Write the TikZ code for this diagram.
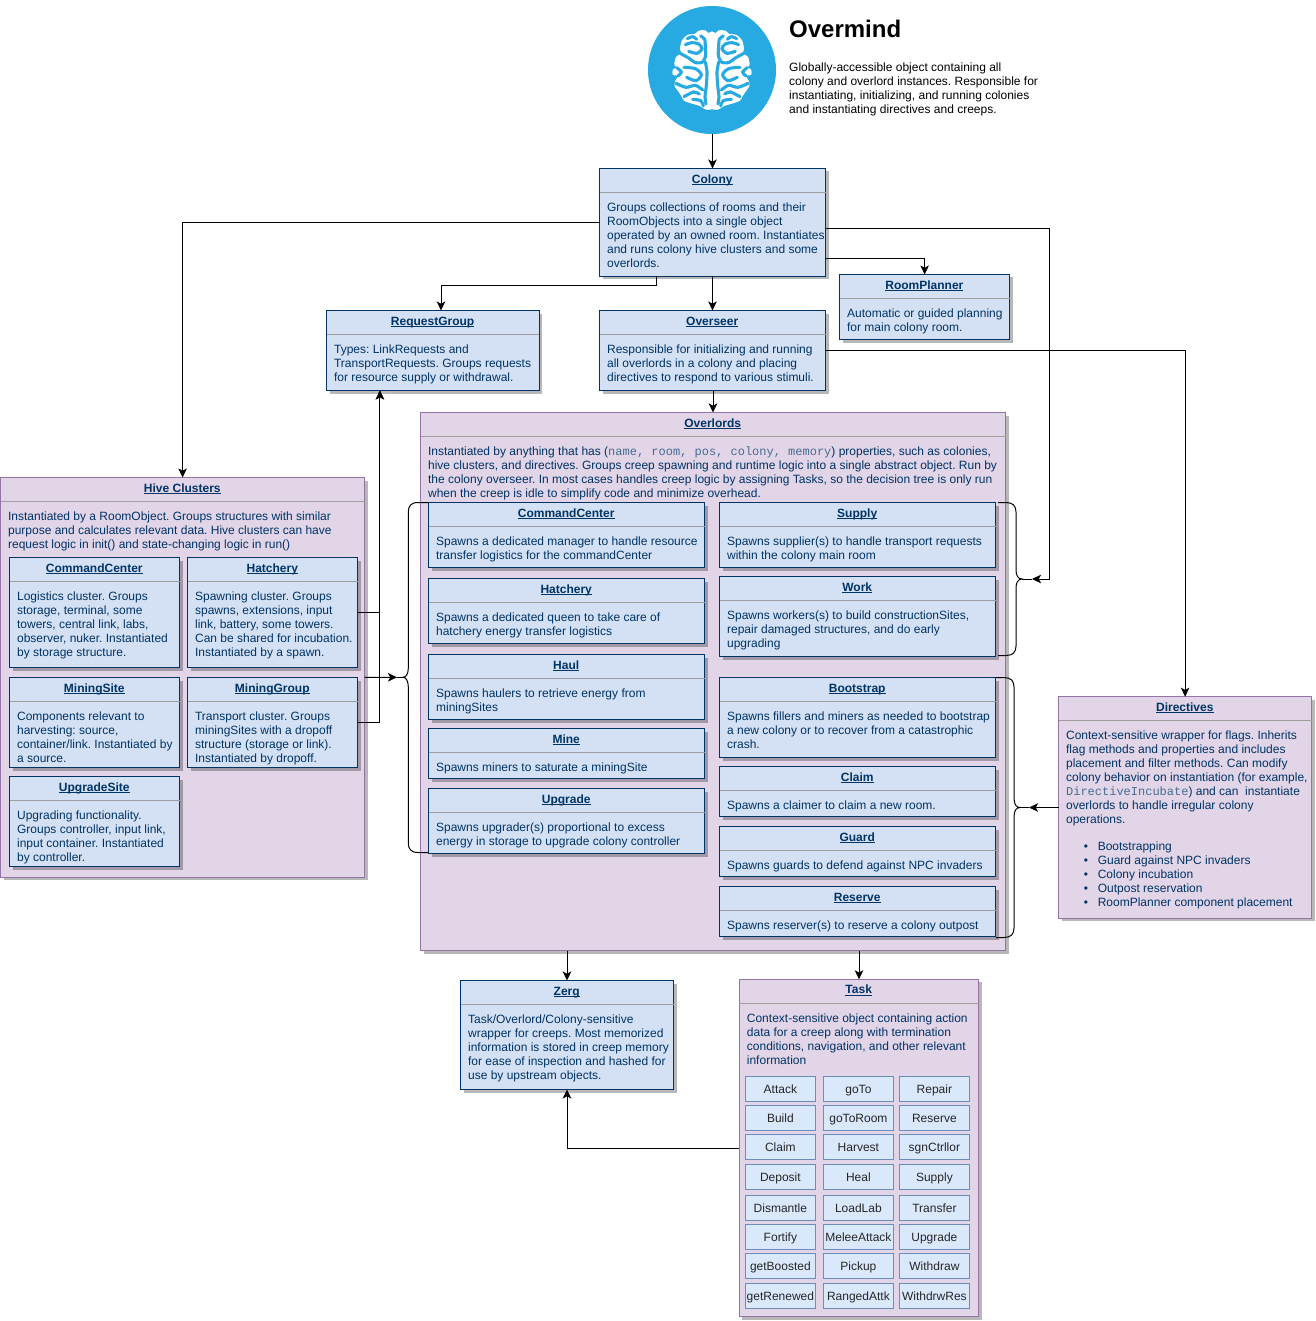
\documentclass[tikz,border=0pt]{standalone}
\usepackage{fontspec}
\setmainfont{Liberation Sans}
\newfontfamily\codefont{Liberation Mono}
\usetikzlibrary{arrows.meta,shadows}
\frenchspacing
\definecolor{txtblue}{HTML}{003366}
\definecolor{bluefill}{HTML}{D4E1F5}
\definecolor{purplefill}{HTML}{E1D5E7}
\definecolor{purpleline}{HTML}{9673A6}
\definecolor{cellfill}{HTML}{DAE8FC}
\definecolor{cellline}{HTML}{6C8EBF}
\definecolor{brainblue}{HTML}{27AAE1}
\newlength{\ttllen}
\newcommand{\ttlu}[1]{\settowidth{\ttllen}{#1}\rlap{\rule[-1.7pt]{\ttllen}{0.8pt}}#1}
\newcommand{\cls}[7][bluebox]{%
  \node[#1,minimum width=#5pt,minimum height=#6pt] (#2) at (#3,#4) {};
  \draw[divider] ([yshift=-24pt]#2.north west) -- ([yshift=-24pt]#2.north east);
  \node[titletext] (#2title) at ([xshift=-.3pt,yshift=-14.6pt]#2.north) {\ttlu{#7}};
}
\newcommand{\bodytxt}[2]{\node[bodytext] (#1body) at ([xshift=7.4pt,yshift=-32.5pt]#1.north west) {\rule{0pt}{10pt}#2};}
\newcommand{\groove}[1]{\draw[brainblue,line width=3.1pt,line cap=round] plot[smooth] coordinates {#1};}
\newcommand{\brainhalf}{%
  \fill[white] plot[smooth] coordinates {(0,28) (-11,33) (-20,25) (-40,26) (-52,36) (-72,38) (-90,55) (-96,80) (-93,93) (-108,105) (-113,128) (-106,137) (-117,142) (-118,158) (-102,162) (-110,176) (-112,192) (-100,210) (-92,222) (-84,236) (-60,245) (-36,252) (-18,263) (0,262)} -- cycle;
  \groove{(-80,68) (-60,62) (-40,66) (-30,80) (-45,94) (-70,88)}
  \groove{(-96,94) (-70,108) (-50,122) (-28,120) (-19,100) (-20,75) (-22,52) (-34,42)}
  \groove{(-20,120) (-15,150) (-17,190) (-21,225) (-18,246)}
  \groove{(-84,136) (-50,140) (-32,158) (-48,176) (-76,166)}
  \groove{(-106,137) (-92,150) (-102,162)}
  \groove{(-108,184) (-78,196) (-50,190) (-28,204)}
  \groove{(-84,224) (-55,210) (-38,216)}
  \groove{(-58,232) (-34,236) (-26,252)}
  \groove{(-74,50) (-58,44) (-46,52)}
}
\tikzset{
  baselook/.style={rectangle,anchor=north west,inner sep=0pt,outer sep=0pt,line width=1pt,
    drop shadow={shadow xshift=3pt,shadow yshift=-3pt,fill=black,opacity=.28}},
  bluebox/.style={baselook,draw=txtblue,fill=bluefill},
  purplebox/.style={baselook,draw=purpleline,fill=purplefill},
  divider/.style={draw=black!38,line width=1pt},
  titletext/.style={anchor=base,inner sep=0pt,text=txtblue,font=\fontsize{12}{14}\selectfont\bfseries},
  bodytext/.style={anchor=north west,inner sep=0pt,align=left,text=txtblue,font=\fontsize{12}{14}\selectfont},
  cell/.style={rectangle,draw=cellline,fill=cellfill,line width=.9pt,inner sep=0pt,outer sep=0pt,
    minimum width=70.7pt,minimum height=25.4pt,text height=10pt,text depth=1pt,font=\fontsize{12}{14}\selectfont,text=black!85},
  arr/.style={-{Stealth[length=9pt,width=8.5pt,inset=2.2pt]},line width=1pt,draw=black},
  plainline/.style={line width=1pt,draw=black},
}
\begin{document}
\begin{tikzpicture}[x=1pt,y=-1pt]
\useasboundingbox (0,0) rectangle (1315,1321);
\fill[white] (0,0) rectangle (1315,1321);
% Overmind
\node[circle,fill=brainblue,minimum size=128pt,inner sep=0pt,outer sep=0pt] (overmind) at (712,70) {};
\begin{scope}[shift={(712,22)},scale=0.3333]
  \brainhalf
  \begin{scope}[xscale=-1]\brainhalf\end{scope}
\end{scope}
\node[anchor=base west,inner sep=0pt,font=\fontsize{24}{28}\selectfont\bfseries] (overmindtitle) at (789,38) {Overmind};
\node[anchor=north west,inner sep=0pt,align=left,font=\fontsize{12}{14}\selectfont] (overminddesc) at (789,61) {\rule{0pt}{10pt}Globally-accessible object containing all\\colony and overlord instances. Responsible for\\instantiating, initializing, and running colonies\\and instantiating directives and creeps.};
% Colony
\cls{colony}{599.5}{168.5}{226}{108}{Colony}
\bodytxt{colony}{Groups collections of rooms and their\\RoomObjects into a single object\\operated by an owned room. Instantiates\\and runs colony hive clusters and some\\overlords.}
\cls{roomplanner}{839.5}{274.5}{170.3}{65}{RoomPlanner}
\bodytxt{roomplanner}{Automatic or guided planning\\for main colony room.}
\cls{overseer}{599.5}{310.5}{226}{80}{Overseer}
\bodytxt{overseer}{Responsible for initializing and running\\all overlords in a colony and placing\\directives to respond to various stimuli.}
\cls{requestgroup}{326.5}{310.5}{212.8}{80}{RequestGroup}
\bodytxt{requestgroup}{Types: LinkRequests and\\TransportRequests. Groups requests\\for resource supply or withdrawal.}
% Overlords
\cls[purplebox]{overlords}{420.5}{412.5}{585}{538}{Overlords}
\bodytxt{overlords}{Instantiated by anything that has ({\codefont\color{txtblue!72}name, room, pos, colony, memory}) properties, such as colonies,\\hive clusters, and directives. Groups creep spawning and runtime logic into a single abstract object. Run by\\the colony overseer. In most cases handles creep logic by assigning Tasks, so the decision tree is only run\\when the creep is idle to simplify code and minimize overhead.}
\cls{ocommand}{428.5}{502.5}{276}{65}{CommandCenter}
\bodytxt{ocommand}{Spawns a dedicated manager to handle resource\\transfer logistics for the commandCenter}
\cls{ohatchery}{428.5}{578.5}{276}{65}{Hatchery}
\bodytxt{ohatchery}{Spawns a dedicated queen to take care of\\hatchery energy transfer logistics}
\cls{ohaul}{428.5}{654.5}{276}{65}{Haul}
\bodytxt{ohaul}{Spawns haulers to retrieve energy from\\miningSites}
\cls{omine}{428.5}{728.5}{276}{50}{Mine}
\bodytxt{omine}{Spawns miners to saturate a miningSite}
\cls{oupgrade}{428.5}{788.5}{276}{65}{Upgrade}
\bodytxt{oupgrade}{Spawns upgrader(s) proportional to excess\\energy in storage to upgrade colony controller}
\cls{osupply}{719.5}{502.5}{276}{65}{Supply}
\bodytxt{osupply}{Spawns supplier(s) to handle transport requests\\within the colony main room}
\cls{owork}{719.5}{576.5}{276}{80}{Work}
\bodytxt{owork}{Spawns workers(s) to build constructionSites,\\repair damaged structures, and do early\\upgrading}
\cls{obootstrap}{719.5}{677.5}{276}{80}{Bootstrap}
\bodytxt{obootstrap}{Spawns fillers and miners as needed to bootstrap\\a new colony or to recover from a catastrophic\\crash.}
\cls{oclaim}{719.5}{766.5}{276}{50}{Claim}
\bodytxt{oclaim}{Spawns a claimer to claim a new room.}
\cls{oguard}{719.5}{826.5}{276}{50}{Guard}
\bodytxt{oguard}{Spawns guards to defend against NPC invaders}
\cls{oreserve}{719.5}{886.5}{276}{50}{Reserve}
\bodytxt{oreserve}{Spawns reserver(s) to reserve a colony outpost}
% Hive clusters
\cls[purplebox]{hive}{0.5}{477.5}{364.2}{399.5}{Hive Clusters}
\bodytxt{hive}{Instantiated by a RoomObject. Groups structures with similar\\purpose and calculates relevant data. Hive clusters can have\\request logic in init() and state-changing logic in run()}
\cls{hcommand}{9.5}{557.5}{170.2}{110}{CommandCenter}
\bodytxt{hcommand}{Logistics cluster. Groups\\storage, terminal, some\\towers, central link, labs,\\observer, nuker. Instantiated\\by storage structure.}
\cls{hhatchery}{187.5}{557.5}{170.2}{110}{Hatchery}
\bodytxt{hhatchery}{Spawning cluster. Groups\\spawns, extensions, input\\link, battery, some towers.\\Can be shared for incubation.\\Instantiated by a spawn.}
\cls{hmining}{9.5}{677.5}{170.2}{90}{MiningSite}
\bodytxt{hmining}{Components relevant to\\harvesting: source,\\container/link. Instantiated by\\a source.}
\cls{hgroup}{187.5}{677.5}{170.2}{90}{MiningGroup}
\bodytxt{hgroup}{Transport cluster. Groups\\miningSites with a dropoff\\structure (storage or link).\\Instantiated by dropoff.}
\cls{hupgrade}{9.5}{776.5}{170.2}{90}{UpgradeSite}
\bodytxt{hupgrade}{Upgrading functionality.\\Groups controller, input link,\\input container. Instantiated\\by controller.}
% Directives
\cls[purplebox]{directives}{1058.5}{696.7}{253.2}{221.6}{Directives}
\bodytxt{directives}{Context-sensitive wrapper for flags. Inherits\\flag methods and properties and includes\\placement and filter methods. Can modify\\colony behavior on instantiation (for example,\\{\codefont\color{txtblue!72}DirectiveIncubate}) and can\ \ instantiate\\overlords to handle irregular colony\\operations.}
\node[bodytext] (directiveslist) at (1097.6,840.4) {\rule{0pt}{10pt}\llap{\textbullet\hspace{9.7pt}}Bootstrapping\\\llap{\textbullet\hspace{9.7pt}}Guard against NPC invaders\\\llap{\textbullet\hspace{9.7pt}}Colony incubation\\\llap{\textbullet\hspace{9.7pt}}Outpost reservation\\\llap{\textbullet\hspace{9.7pt}}RoomPlanner component placement};
% Zerg
\cls{zerg}{460.5}{980.5}{213}{109}{Zerg}
\bodytxt{zerg}{Task/Overlord/Colony-sensitive\\wrapper for creeps. Most memorized\\information is stored in creep memory\\for ease of inspection and hashed for\\use by upstream objects.}
% Task
\cls[purplebox]{task}{739.3}{979.3}{239.4}{337.4}{Task}
\bodytxt{task}{Context-sensitive object containing action\\data for a creep along with termination\\conditions, navigation, and other relevant\\information}
\foreach \yy/\aa/\bb/\cc in {1088.8/Attack/goTo/Repair,1118/Build/goToRoom/Reserve,1147/Claim/Harvest/sgnCtrllor,1177/Deposit/Heal/Supply,1208/Dismantle/LoadLab/Transfer,1237/Fortify/MeleeAttack/Upgrade,1266/getBoosted/Pickup/Withdraw,1296/getRenewed/RangedAttk/WithdrwRes}{
  \node[cell] (t\aa) at (780.4,\yy) {\aa};
  \node[cell] (t\bb) at (858.4,\yy) {\bb};
  \node[cell] (t\cc) at (934.4,\yy) {\cc};
}
% Named free points
\coordinate (rgbend) at (441,286);
\coordinate (colcorner) at (1049.5,579);
\coordinate (r1arrow) at (1032,579);
\coordinate (r1tip) at (1022,579);
\coordinate (r2arrow) at (1029,807.5);
\coordinate (r2tip) at (1020,807.5);
\coordinate (larrow) at (397,677.3);
\coordinate (ltip) at (403,677.3);
% Connectors
\draw[arr] (overmind.south -| colony.north) -- (colony.north);
\draw[arr] (colony.south) -- (overseer.north);
\draw[arr] ([yshift=-36.5pt]colony.east) -| (roomplanner.north);
\draw[arr] ([xshift=-56.5pt]colony.south) |- (rgbend) -- (rgbend |- requestgroup.north);
\draw[arr] (colony.west) -| (hive.north);
\draw[arr] ([yshift=-6pt]colony.east) -| (colcorner) -- (r1arrow);
\draw[plainline] (r1arrow) -- (r1tip);
\draw[arr] (overseer.east) -| (directives.north);
\draw[arr] (overseer.south -| overlords.north) -- (overlords.north);
\draw[arr] (directives.west) -- (r2arrow);
\draw[plainline] (r2arrow) -- (r2tip);
\draw[arr] (overlords.south -| zerg.north) -- (zerg.north);
\draw[arr] (overlords.south -| task.north) -- (task.north);
\draw[arr] (task.west) -| (zerg.south);
\draw[arr] (hhatchery.east) -| ([xshift=-53pt]requestgroup.south);
\draw[arr] (hgroup.east) -| ([xshift=-53pt]requestgroup.south);
\draw[arr] (hive.east) -- (larrow);
\draw[plainline] (larrow) -- (ltip);
% Braces
\draw[plainline] (428,502.5) -- (418,502.5) .. controls (411,502.5) and (408.3,506) .. (408.3,512) -- (408.3,668) .. controls (408.3,674) and (406,677.3) .. (403,677.3) .. controls (406,677.3) and (408.3,681) .. (408.3,687) -- (408.3,843) .. controls (408.3,849) and (411,852.5) .. (418,852.5) -- (428,852.5);
\draw[plainline] (998,502.5) -- (1006,502.5) .. controls (1013,502.5) and (1016,506) .. (1016,512) -- (1016,570) .. controls (1016,575.5) and (1018,579) .. (1022,579) .. controls (1018,579) and (1016,582.5) .. (1016,588) -- (1016,646) .. controls (1016,652) and (1013,655.5) .. (1006,655.5) -- (998,655.5);
\draw[plainline] (996,677.5) -- (1004,677.5) .. controls (1011,677.5) and (1014,681) .. (1014,687) -- (1014,798) .. controls (1014,804) and (1016,807.5) .. (1020,807.5) .. controls (1016,807.5) and (1014,811) .. (1014,817) -- (1014,928) .. controls (1014,934) and (1011,937.5) .. (1004,937.5) -- (996,937.5);
\end{tikzpicture}
\end{document}
